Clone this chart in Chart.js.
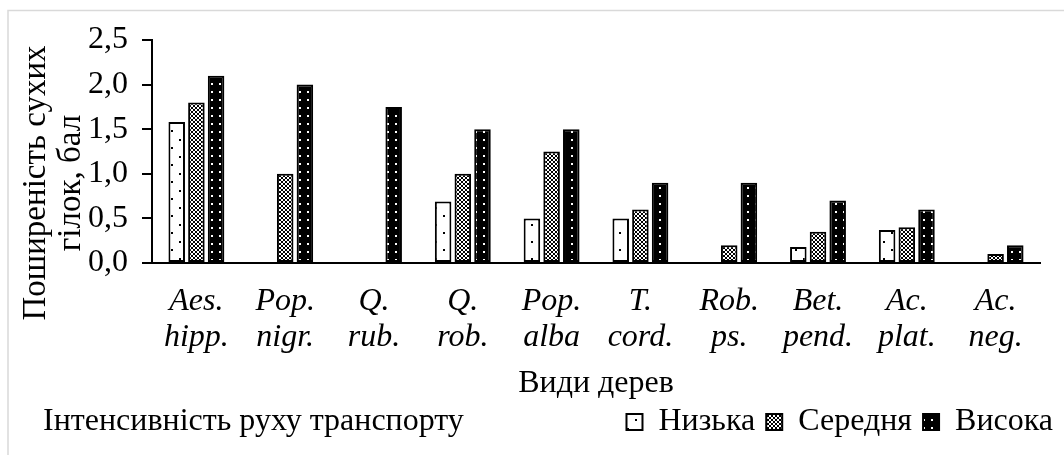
<!DOCTYPE html>
<html>
<head>
<meta charset="utf-8">
<script src="https://cdn.jsdelivr.net/npm/chart.js"></script>
<style>
body { margin: 0; background: #fff; }
#wrap { position: relative; width: 1064px; height: 455px; }
</style>
</head>
<body>
<div id="wrap"><canvas id="barChart"></canvas></div>
<script>
var categories = [["Aes.", "hipp."], ["Pop.", "nigr."], ["Q.", "rub."], ["Q.", "rob."], ["Pop.", "alba"],
                  ["T.", "cord."], ["Rob.", "ps."], ["Bet.", "pend."], ["Ac.", "plat."], ["Ac.", "neg."]];
var seriesNames = ["Низька", "Середня", "Висока"];
var lowValues = [1.58, null, null, 0.69, 0.5, 0.5, null, 0.18, 0.37, null];
var midValues = [1.8, 1.0, null, 1.0, 1.25, 0.6, 0.2, 0.35, 0.4, 0.1];
var highValues = [2.1, 2.0, 1.75, 1.5, 1.5, 0.9, 0.9, 0.7, 0.6, 0.2];
var yTitle = ["Поширеність сухих", "гілок, бал"];
var xTitle = "Види дерев";
var legendTitle = "Інтенсивність руху транспорту";

var FONT = "'Liberation Serif', 'Times New Roman', serif";

function makePattern(w, h, bg, draw) {
    var c = document.createElement("canvas");
    c.width = w;
    c.height = h;
    var x = c.getContext("2d");
    x.fillStyle = bg;
    x.fillRect(0, 0, w, h);
    draw(x);
    return x.createPattern(c, "repeat");
}

// dotted white, checkered, black with white dots
var lowFill = makePattern(16, 17, "#fff", function (x) {
    x.fillStyle = "#000";
    x.fillRect(3, 3, 2, 2);
    x.fillRect(11, 11, 2, 2);
});
var midFill = makePattern(4, 4, "#fff", function (x) {
    x.fillStyle = "#000";
    var px = [[0, 0], [3, 0], [1, 1], [2, 1], [1, 2], [2, 2], [0, 3], [3, 3]];
    px.forEach(function (p) { x.fillRect(p[0], p[1], 1, 1); });
});
var highFill = makePattern(8, 8, "#000", function (x) {
    x.fillStyle = "#fff";
    x.fillRect(3, 3, 2, 2);
});

var extras = {
    id: "extras",
    afterDraw: function (chart) {
        var ctx = chart.ctx;
        ctx.save();
        // frame
        ctx.strokeStyle = "#d9d9d9";
        ctx.lineWidth = 1.5;
        ctx.beginPath();
        ctx.moveTo(8, 455);
        ctx.lineTo(8, 10.5);
        ctx.lineTo(1064, 10.5);
        ctx.stroke();

        // y axis title, two lines
        ctx.fillStyle = "#000";
        ctx.font = "33px " + FONT;
        ctx.textAlign = "center";
        ctx.textBaseline = "alphabetic";
        var xs = [45, 80];
        yTitle.forEach(function (t, i) {
            ctx.save();
            ctx.translate(xs[i], 183);
            ctx.rotate(-Math.PI / 2);
            ctx.fillText(t, 0, 0);
            ctx.restore();
        });

        // legend title on the legend row
        var hb = chart.legend.legendHitBoxes[0];
        ctx.font = "32px " + FONT;
        ctx.textAlign = "left";
        ctx.textBaseline = "middle";
        ctx.fillText(legendTitle, 43, hb.top + hb.height / 2);
        ctx.restore();
    }
};

function makeSet(label, data, fill) {
    return {
        label: label,
        data: data,
        backgroundColor: fill,
        borderColor: "#000",
        borderWidth: 2,
        borderSkipped: false,
        categoryPercentage: 0.665,
        barPercentage: 0.84
    };
}

new Chart("barChart", {
    type: "bar",
    data: {
        labels: categories,
        datasets: [
            makeSet(seriesNames[0], lowValues, lowFill),
            makeSet(seriesNames[1], midValues, midFill),
            makeSet(seriesNames[2], highValues, highFill)
        ]
    },
    options: {
        responsive: true,
        maintainAspectRatio: false,
        animation: false,
        layout: { padding: { left: 0, right: 0, top: 40, bottom: 7 } },
        scales: {
            x: {
                grid: { display: false, drawTicks: false },
                border: { display: true, color: "#000", width: 2 },
                ticks: {
                    color: "#000",
                    font: { family: FONT, size: 32, style: "italic", lineHeight: 1.12 },
                    padding: 21,
                    maxRotation: 0,
                    autoSkip: false
                },
                title: {
                    display: true,
                    text: xTitle,
                    color: "#000",
                    font: { family: FONT, size: 32 },
                    padding: { top: 0, bottom: -8 }
                },
                afterFit: function (s) { s.height = 132; }
            },
            y: {
                min: 0,
                max: 2.5,
                ticks: {
                    stepSize: 0.5,
                    color: "#000",
                    font: { family: FONT, size: 32 },
                    padding: 14,
                    callback: function (v) { return v.toFixed(1).replace(".", ","); }
                },
                grid: { drawOnChartArea: false, drawTicks: true, tickLength: 10, color: "#000", lineWidth: 2 },
                border: { display: true, color: "#000", width: 2 },
                afterFit: function (s) { s.width = 152; }
            },
            y2: {
                position: "right",
                grid: { display: false },
                border: { display: false },
                ticks: { display: false },
                afterFit: function (s) { s.width = 24; }
            }
        },
        plugins: {
            legend: {
                position: "bottom",
                align: "end",
                labels: {
                    color: "#000",
                    font: { family: FONT, size: 32 },
                    boxWidth: 16,
                    boxHeight: 16,
                    padding: 11
                }
            },
            tooltip: { enabled: false }
        }
    },
    plugins: [extras]
});
</script>
</body>
</html>
